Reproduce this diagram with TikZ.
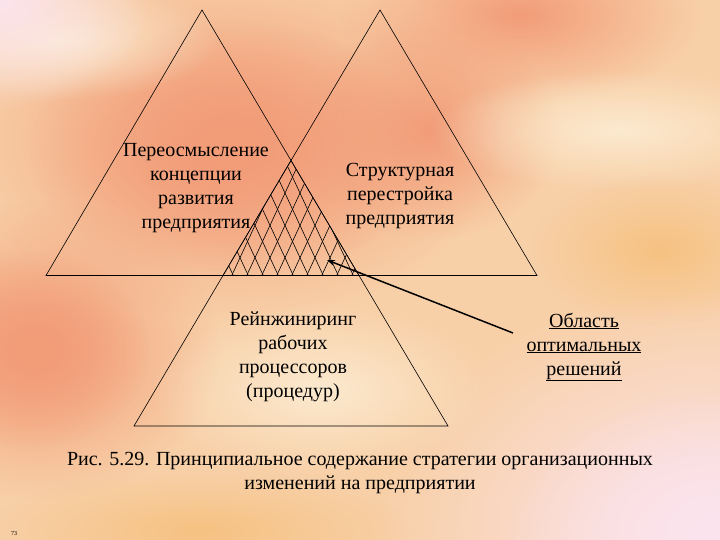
\documentclass[tikz,border=0pt]{standalone}
\usepackage{fontspec}
\setmainfont{Liberation Serif}
\usetikzlibrary{arrows.meta,fadings}

\definecolor{peach}{HTML}{F8D0A8}
\definecolor{salmon}{HTML}{F29C78}
\definecolor{cream}{HTML}{FCEACF}
\definecolor{gold}{HTML}{F6C282}
\definecolor{rosy}{HTML}{FCE4EE}

\tikzfading[name=fuzzy, inner color=transparent!0, outer color=transparent!100]

\tikzset{
	side/.style={line width=0.6pt},
	hatch/.style={line width=0.6pt},
	lbl/.style={align=center, inner sep=0pt, font=\rmfamily\fontsize{20}{24}\selectfont},
	pointer/.style={line width=1.5pt, -{Stealth[length=8pt,width=6pt]}},
	blob/.style={path fading=fuzzy}
}

\begin{document}
\begin{tikzpicture}[x=1pt,y=-1pt]
	\useasboundingbox (0,0) rectangle (720,540);

	% background
	\fill[peach] (0,0) rectangle (720,540);
	\fill[blob, salmon] (230,140) ellipse (270pt and 180pt);
	\fill[blob, salmon] (230,150) ellipse (200pt and 130pt);
	\fill[blob, salmon] (430,130) ellipse (130pt and 110pt);
	\fill[blob, salmon] (520,15) ellipse (180pt and 90pt);
	\fill[blob, salmon] (40,350) ellipse (180pt and 150pt);
	\fill[blob, salmon] (30,350) ellipse (120pt and 100pt);
	\fill[blob, cream] (620,130) ellipse (190pt and 60pt);
	\fill[blob, cream] (320,390) ellipse (170pt and 85pt);
	\fill[blob, cream] (60,40) ellipse (160pt and 60pt);
	\fill[blob, gold] (660,250) ellipse (130pt and 75pt);
	\fill[blob, gold] (200,530) ellipse (210pt and 60pt);
	\fill[blob, rosy] (720,530) ellipse (340pt and 240pt);
	\fill[blob, rosy] (720,540) ellipse (220pt and 150pt);
	\fill[blob, rosy] (0,0) ellipse (150pt and 110pt);

	% vertices
	\coordinate (lt) at (202,10);
	\coordinate (ll) at (46,275.5);
	\coordinate (lr) at (359,275.5);
	\coordinate (rt) at (380,10);
	\coordinate (rl) at (223,275.5);
	\coordinate (rr) at (537,275.5);
	\coordinate (bt) at (291,160.5);
	\coordinate (bl) at (134,426);
	\coordinate (br) at (448,426);

	% triangles
	\draw[side] (lt) -- (ll) -- (lr) -- cycle;
	\draw[side] (rt) -- (rl) -- (rr) -- cycle;
	\draw[side] (bt) -- (bl) -- (br) -- cycle;
	\draw[line width=1.6pt] (224,275.5) -- (296,275.5);

	% crosshatch of the common part
	\begin{scope}
		\clip (bt) -- (rl) -- (lr) -- cycle;
		\foreach \x in {120,135,...,480} {
			\draw[hatch] (\x,290) -- ++(-65,-140);
			\draw[hatch] (\x,290) -- ++(65,-140);
		}
	\end{scope}

	% labels
	\node[lbl] (concept) at (196,188) {Переосмысление\\концепции\\развития\\предприятия};
	\node[lbl] (struct) at (400,196) {Структурная\\перестройка\\предприятия};
	\node[lbl] (reeng) at (293,357) {Рейнжиниринг\\рабочих\\процессоров\\(процедур)};
	\node[lbl] (obl) at (584,347) {\underline{Область}\\\underline{оптимальных}\\\underline{решений}};

	\coordinate (tail) at (513,333);
	\coordinate (tip) at (327,260);
	\draw[pointer] (tail) -- (tip);

	\node[lbl] (caption) at (360,473) {Рис. 5.29. Принципиальное содержание стратегии организационных\\изменений на предприятии};
	\node[font=\fontsize{6}{7}\selectfont, inner sep=0pt] (page) at (14,534) {73};
\end{tikzpicture}
\end{document}
